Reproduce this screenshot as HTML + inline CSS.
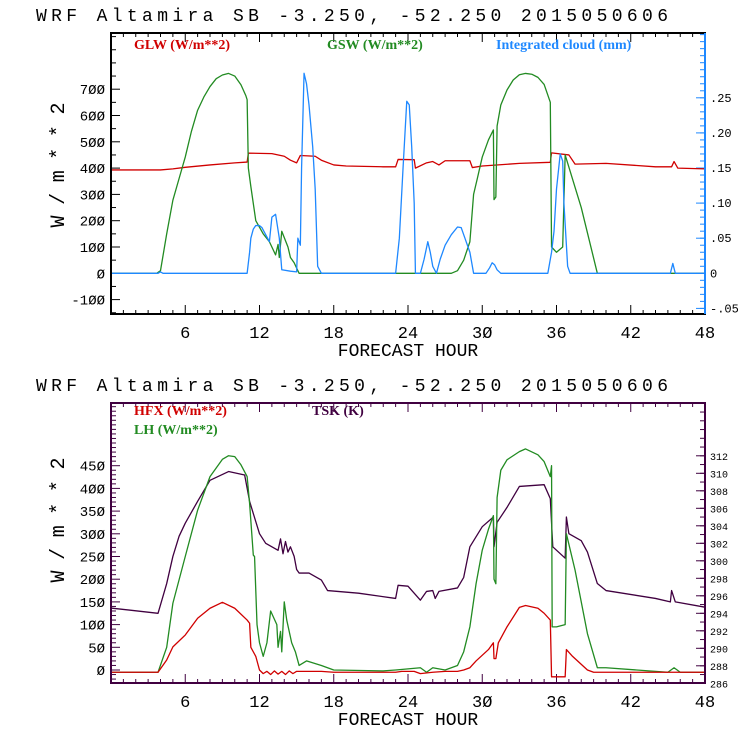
<!DOCTYPE html>
<html><head><meta charset="utf-8">
<style>
html,body{margin:0;padding:0;background:#fff;}
svg{display:block;}
text{font-family:"Liberation Mono","DejaVu Sans Mono",monospace;}
.lg{font-family:"Liberation Serif",serif;font-weight:bold;font-size:14px;}
</style></head>
<body>
<svg id="chart" width="740" height="740" viewBox="0 0 740 740" xmlns="http://www.w3.org/2000/svg"></svg>
<script>
// ---- data (top panel) ----
const glwHours=[0,4,5,6,8,10,11,11.1,13,14,14.5,15,15.3,16.5,17,18,19,22,23,23.2,24.5,24.6,25.5,26,26.5,27,29,29.2,30,33,35.5,35.6,37,37.5,40,44,45.3,45.5,45.8,48];
const glwVals=[393,393,397,403,412,420,423,457,455,445,430,420,448,445,430,412,408,405,405,433,432,400,420,425,412,428,428,402,408,418,422,458,450,415,418,405,405,425,400,397];
const gswHours=[0,3.7,4,4.5,5,5.5,6,6.5,7,7.5,8,8.5,9,9.5,10,10.5,10.9,11,11.1,11.3,11.7,12.3,12.8,13.3,13.5,13.6,13.8,14.3,14.5,14.8,15.2,27.5,28,28.5,29,29.3,29.6,30,30.5,30.9,30.95,31.1,31.2,31.5,32,32.5,33,33.5,34,34.5,35,35.5,35.6,36,36.5,36.7,38,39.3,48];
const gswVals=[0,0,10,150,278,360,442,540,620,670,710,740,754,760,750,717,675,660,400,330,200,150,120,70,110,60,160,100,60,40,0,0,10,50,120,300,360,442,507,545,280,290,560,640,697,735,755,760,757,745,718,650,100,80,100,450,250,0,0];
const cldHours=[0,3.8,4,4.2,11,11.2,11.3,11.5,11.7,12,12.2,12.5,12.8,13,13.3,13.6,13.8,14.5,15,15.1,15.3,15.4,15.6,15.8,16,16.3,16.5,16.7,17,23,23.3,23.6,23.9,24.1,24.3,24.5,24.6,25,25.3,25.6,25.8,26,26.3,26.6,27,27.5,28,28.3,28.6,29,29.3,30.3,30.6,30.8,31,31.2,31.5,35.3,35.6,35.8,36,36.3,36.5,36.6,36.8,36.9,37.1,45.2,45.4,45.6,48];
const cldVals=[0,0,.002,0,0,.03,.05,.063,.068,.068,.065,.055,.045,.08,.084,.05,.005,.003,.002,.05,.04,.15,.285,.27,.24,.18,.12,.01,0,0,.05,.15,.245,.24,.18,.1,0,0,.02,.045,.03,.01,0,.02,.04,.055,.066,.065,.05,.03,0,0,.008,.015,.012,.005,0,0,.03,.06,.12,.17,.16,.1,.04,.01,0,0,.014,0,0];
const topLeftTicks=[-100,0,100,200,300,400,500,600,700];
const topRightTicks=[-0.05,0,0.05,0.10,0.15,0.20,0.25];
const topRightLabels=["-.05","0",".05",".10",".15",".20",".25"];
const hourTicks=[6,12,18,24,30,36,42,48];
// ---- data (bottom panel) ----
const hfxHours=[0,3.8,4.5,5,6,7,8,9,10,11,11.2,11.3,11.7,12,12.3,12.6,12.9,13.2,13.5,13.8,14.1,14.4,14.7,15,17,18,23,23.5,24.5,25,26,27,28,28.5,29,29.5,30.5,30.9,30.95,31.1,31.3,32,33,33.5,34.5,35,35.5,35.6,36.7,36.8,37.3,38.5,39,48];
const hfxVals=[-5,-5,22,51,77,114,136,149,136,110,103,50,30,0,-8,-3,-10,-2,-9,-3,-10,-2,-8,-3,-3,-5,-5,-3,-3,-8,-5,-3,-3,0,5,20,45,60,25,25,60,95,138,142,136,125,110,-15,-15,45,30,0,-5,-5];
const lhHours=[0,3.8,4.5,5,6,7,8,9,9.5,10,10.5,11,11.2,11.5,11.6,11.8,12,12.3,12.6,12.9,13.4,13.5,13.7,13.8,14,14.2,14.6,14.9,15.2,15.8,17,18,22,23,25,25.5,26,27,28,28.5,29,29.5,30,30.5,30.9,30.95,31.1,31.2,31.5,32,33,33.5,34.5,35,35.5,35.6,35.65,36,36.7,36.8,37.5,38.5,39.3,40,45,45.5,46,48];
const lhVals=[-5,-5,50,147,250,352,426,464,472,470,452,426,367,253,250,100,60,30,60,130,100,50,85,40,150,110,60,40,10,20,10,0,-2,0,5,-5,5,0,10,40,95,190,264,310,340,200,190,380,440,463,481,487,474,459,426,450,95,95,100,300,220,80,5,5,-5,5,-5,-5];
const tskHours=[0,3.8,4.5,5,5.5,6,7,8,9.5,10.8,11.2,11.5,12,12.5,13,13.5,13.7,13.9,14.1,14.3,14.5,14.8,15,15.2,16,17,17.5,20,23,23.2,24,25,25.5,26,26.2,26.5,28,28.5,29,30,30.9,30.95,31.2,32,33,35,35.5,35.7,36.7,36.8,37,38,38.5,39.3,40,44,45.2,45.3,45.6,48];
const tskVals=[294.6,294.0,297.4,300.5,302.8,304.3,306.8,309.2,310.2,309.8,306.8,305.4,303.1,302,301.6,301.2,302.5,300.8,302.2,301,301.6,300.5,299,298.6,298.6,297.8,296.6,296.3,295.7,297.2,297.1,295.5,296.5,296.6,295.7,296.5,296.9,298.1,301.6,303.9,305,301.6,304.4,306.1,308.5,308.7,307.1,301.6,300.3,305,303.1,302.3,301,297.4,296.6,295.7,295.3,296.6,295.3,294.7];
const botLeftTicks=[0,50,100,150,200,250,300,350,400,450];
const botRightTicks=[286,288,290,292,294,296,298,300,302,304,306,308,310,312];

const NS="http://www.w3.org/2000/svg";
const svg=document.getElementById('chart');
function mk(tag,attrs,parent){const e=document.createElementNS(NS,tag);for(const k in attrs)e.setAttribute(k,attrs[k]);(parent||svg).appendChild(e);return e;}
const X0=111,X1=705;
function xs(h){return X0+(h-0)/48*(X1-X0);}
function pathFrom(hours,vals,ys){let d='';for(let i=0;i<hours.length;i++){d+=(i?'L':'M')+xs(hours[i]).toFixed(2)+','+ys(vals[i]).toFixed(2);}return d;}

function panel(o){
  const g=mk('g',{});
  
  
  const t=mk('text',{x:36,y:o.titleY,'font-size':'18',textLength:'632',lengthAdjust:'spacing',fill:'#000'},g);
  t.textContent='WRF  Altamira  SB  -3.250, -52.250  2015050606';
  
  
  for(let h=1;h<48;h++){
    const len=h%6===0?9:4;
    const x=xs(h);
    mk('line',{x1:x,x2:x,y1:o.Y1,y2:o.Y1-len,stroke:o.frame,'stroke-width':1},g);
    mk('line',{x1:x,x2:x,y1:o.Y0,y2:o.Y0+len,stroke:o.frame,'stroke-width':1},g);
  }
  hourTicks.forEach(h=>{
    const tx=mk('text',{x:xs(h),y:o.Y1+24,'font-size':'17','text-anchor':'middle',fill:'#000'},g);
    tx.textContent=String(h).replace(/0/g,'Ø');
    
    
  });
  const xl=mk('text',{x:408,y:o.Y1+42,'font-size':'18','text-anchor':'middle',fill:'#000'},g);
  xl.textContent='FORECAST HOUR';
  
  
  const yl=mk('text',{x:0,y:0,'font-size':'20','text-anchor':'middle',textLength:'125',lengthAdjust:'spacing',fill:'#000',transform:`translate(64,${o.ylabY}) rotate(-90)`},g);
  yl.textContent='W/m**2';
  
  
  for(let v=o.lMinor0;v<=o.lMax;v+=o.lMinorStep){
    const y=o.yl(v); if(y<o.Y0||y>o.Y1)continue;
    mk('line',{x1:X0,x2:X0+(o.lMajor.includes(v)?9:5),y1:y,y2:y,stroke:o.frame,'stroke-width':1},g);
  }
  o.lMajor.forEach(v=>{
    const tx=mk('text',{x:X0-6,y:o.yl(v)+5,'font-size':'14','text-anchor':'end',fill:'#000'},g);
    tx.textContent=String(v).replace(/0/g,'Ø');
    
    
  });
  for(let v=o.rMinor0;v<=o.rMax+1e-9;v+=o.rMinorStep){
    const y=o.yr(v); if(y<o.Y0||y>o.Y1)continue;
    mk('line',{x1:X1,x2:X1-5,y1:y,y2:y,stroke:o.rColor,'stroke-width':1},g);
  }
  o.rMajor.forEach((v,i)=>{
    const y=o.yr(v);
    mk('line',{x1:X1,x2:X1-9,y1:y,y2:y,stroke:o.rColor,'stroke-width':1},g);
    const tx=mk('text',{x:X1+5,y:y+4,'font-size':o.rFont,fill:'#000'},g);
    tx.textContent=o.rLabels[i];
    
    
  });
  o.series.forEach(s=>{
    const p=mk('path',{d:pathFrom(s.h,s.v,s.ys),fill:'none',stroke:s.c,'stroke-width':1.3,'stroke-linejoin':'round'},g);
    
    
  });
  const fr=mk('rect',{x:X0,y:o.Y0,width:X1-X0,height:o.Y1-o.Y0,fill:'none',stroke:o.frame,'stroke-width':2},g);
  
  
  mk('line',{x1:X1,x2:X1,y1:o.Y0,y2:o.Y1,stroke:o.rColor,'stroke-width':2},g);
  o.legend.forEach(l=>{
    const tx=mk('text',{x:l.x,y:l.y,class:'lg',fill:l.c},g);
    tx.textContent=l.t;
    
    
  });
}

const tY0=33,tY1=314;
const tyl=v=>273.3-v*0.263;
const tyr=v=>273.3-v*702;
panel({name:'top-panel',titleY:21,Y0:tY0,Y1:tY1,frame:'#000',rColor:'#1e88ff',yl:tyl,yr:tyr,
  lMinor0:-150,lMax:900,lMinorStep:50,lMajor:topLeftTicks,
  rMinor0:-0.05,rMax:0.34,rMinorStep:0.01,rMajor:topRightTicks,rLabels:topRightLabels,rFont:'12',ylabY:165,
  series:[
    {name:'glw-line',h:glwHours,v:glwVals,ys:tyl,c:'#d00000'},
    {name:'gsw-line',h:gswHours,v:gswVals,ys:tyl,c:'#228b22'},
    {name:'cloud-line',h:cldHours,v:cldVals,ys:tyr,c:'#1e88ff'}],
  legend:[{t:'GLW (W/m**2)',x:134,y:49,c:'#d00000',name:'legend-glw'},
          {t:'GSW (W/m**2)',x:327,y:49,c:'#228b22',name:'legend-gsw'},
          {t:'Integrated cloud (mm)',x:496,y:49,c:'#1e88ff',name:'legend-cloud'}]
});
const bY0=403,bY1=683;
const byl=v=>670-v*0.4540;
const byr=v=>683.3-(v-286)*8.75;
panel({name:'bottom-panel',titleY:391,Y0:bY0,Y1:bY1,frame:'#400040',rColor:'#400040',yl:byl,yr:byr,
  lMinor0:-20,lMax:600,lMinorStep:10,lMajor:botLeftTicks,
  rMinor0:286,rMax:318,rMinorStep:1,rMajor:botRightTicks,rLabels:botRightTicks.map(String),rFont:'10',ylabY:520,
  series:[
    {name:'tsk-line',h:tskHours,v:tskVals,ys:byr,c:'#400040'},
    {name:'lh-line',h:lhHours,v:lhVals,ys:byl,c:'#228b22'},
    {name:'hfx-line',h:hfxHours,v:hfxVals,ys:byl,c:'#d00000'}],
  legend:[{t:'HFX (W/m**2)',x:134,y:415,c:'#d00000',name:'legend-hfx'},
          {t:'LH  (W/m**2)',x:134,y:434,c:'#228b22',name:'legend-lh'},
          {t:'TSK (K)',x:312,y:415,c:'#400040',name:'legend-tsk'}]
});
</script>
</body></html>
